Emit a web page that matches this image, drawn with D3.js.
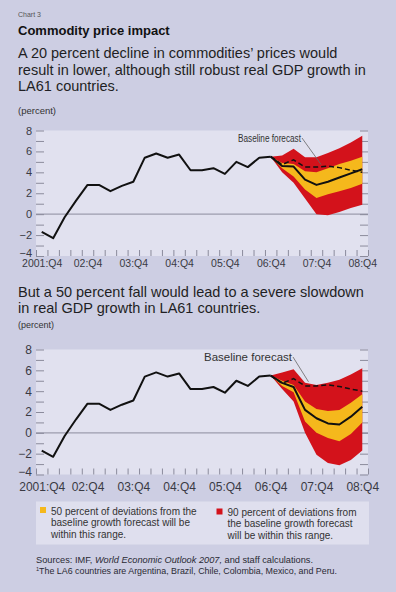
<!DOCTYPE html>
<html>
<head>
<meta charset="utf-8">
<script src="https://cdn.jsdelivr.net/npm/d3@7/dist/d3.min.js"></script>
<style>
  body { margin: 0; background: #cdcee3; }
  svg { display: block; font-family: "Liberation Sans", Arial, sans-serif; }
</style>
</head>
<body>
<div id="chart"></div>
<script>
// quarters 2001:Q4 .. 08:Q4
var quarters = ["2001:Q4","02:Q1","02:Q2","02:Q3","02:Q4","03:Q1","03:Q2","03:Q3","03:Q4",
  "04:Q1","04:Q2","04:Q3","04:Q4","05:Q1","05:Q2","05:Q3","05:Q4","06:Q1","06:Q2","06:Q3","06:Q4",
  "07:Q1","07:Q2","07:Q3","07:Q4","08:Q1","08:Q2","08:Q3","08:Q4"];
var tickLabels = ["2001:Q4","02:Q4","03:Q4","04:Q4","05:Q4","06:Q4","07:Q4","08:Q4"];
var yLabels = [-4, -2, 0, 2, 4, 6, 8];

// real GDP growth, LA6 (2001:Q4 - 06:Q4)
var actualGrowth = [-1.7, -2.3, -0.3, 1.3, 2.8, 2.8, 2.2, 2.7, 3.1, 5.4, 5.8, 5.4, 5.7,
  4.2, 4.2, 4.4, 3.85, 5.0, 4.5, 5.4, 5.5];

// forecasts 06:Q4 - 08:Q4
var baseline = [5.5, 4.75, 5.2, 4.5, 4.5, 4.6, 4.45, 4.2, 4.0];

// 20 percent decline
var central20 = [5.5, 4.6, 4.55, 3.3, 2.8, 3.1, 3.5, 3.9, 4.3];
var low50_20  = [5.5, 4.4, 3.6, 2.35, 1.55, 1.9, 2.2, 2.5, 2.9];
var high50_20 = [5.5, 4.9, 4.8, 4.1, 4.0, 4.4, 4.8, 5.1, 5.5];
var low90_20  = [5.5, 4.0, 3.0, 1.5, 0.0, -0.1, 0.2, 0.6, 0.9];
var high90_20 = [5.5, 5.6, 6.25, 5.45, 5.45, 5.85, 6.3, 6.85, 7.5];

// 50 percent fall
var central50 = [5.5, 4.8, 4.4, 2.2, 1.4, 0.9, 0.8, 1.55, 2.5];
var low50_50  = [5.5, 4.5, 3.9, 1.1, 0.0, -0.5, -0.8, -0.1, 1.0];
var high50_50 = [5.5, 5.0, 4.6, 3.0, 2.3, 2.1, 2.2, 2.9, 3.7];
var low90_50  = [5.5, 4.2, 3.0, 0.0, -2.1, -2.9, -3.1, -2.6, -1.7];
var high90_50 = [5.5, 5.8, 6.1, 4.8, 4.6, 4.8, 5.1, 5.6, 6.2];

var red = "#d3121b", yellow = "#f5b81c", plotBg = "#e1e1ef", tickCol = "#8b8b9c";

var width = 396, height = 592;
var svg = d3.select("#chart").append("svg")
  .attr("width", width)
  .attr("height", height);

svg.append("rect").attr("width", width).attr("height", height).attr("fill", "#cdcee3");

var txt = function(x, y, s, size, opts) {
  opts = opts || {};
  return svg.append("text")
    .attr("x", x).attr("y", y)
    .attr("font-size", size)
    .attr("font-weight", opts.bold ? "bold" : null)
    .attr("fill", opts.fill || "#1f1f24")
    .text(s);
};

// header
txt(18, 17, "Chart 3", 7, {fill: "#555"});
txt(18, 35, "Commodity price impact", 13, {bold: true, fill: "#111"});
txt(18, 58, "A 20 percent decline in commodities\u2019 prices would", 14.5);
txt(18, 74.5, "result in lower, although still robust real GDP growth in", 14.5);
txt(18, 91, "LA61 countries.", 14.5);
txt(18, 114, "(percent)", 9.5, {fill: "#333"});

txt(18, 297, "But a 50 percent fall would lead to a severe slowdown", 14.5);
txt(18, 313, "in real GDP growth in LA61 countries.", 14.5);
txt(18, 328, "(percent)", 9, {fill: "#333"});

var x = d3.scaleLinear().domain([-0.5, quarters.length - 0.5]).range([36, 368]);

function panel(cfg) {
  var y = d3.scaleLinear().domain([-4, 8]).range([cfg.bottom, cfg.top]);
  var g = svg.append("g");

  g.append("rect")
    .attr("x", x.range()[0]).attr("y", cfg.top)
    .attr("width", x.range()[1] - x.range()[0])
    .attr("height", cfg.bottom - cfg.top)
    .attr("fill", plotBg);

  // zero line
  g.append("line")
    .attr("x1", x.range()[0]).attr("x2", x.range()[1])
    .attr("y1", y(0)).attr("y2", y(0))
    .attr("stroke", "#9c9cae").attr("stroke-width", 1.3);

  // tick marks
  var ints = d3.range(-4, 9);
  g.append("g").attr("transform", "translate(" + x.range()[0] + ",0)")
    .call(d3.axisLeft(y).tickValues(ints).tickSizeInner(-8).tickSizeOuter(0).tickFormat(""))
    .call(function(a){ a.select(".domain").remove(); a.selectAll("line").attr("stroke", tickCol); });
  g.append("g").attr("transform", "translate(" + x.range()[1] + ",0)")
    .call(d3.axisRight(y).tickValues(ints).tickSizeInner(-8).tickSizeOuter(0).tickFormat(""))
    .call(function(a){ a.select(".domain").remove(); a.selectAll("line").attr("stroke", tickCol); });
  g.append("g").attr("transform", "translate(0," + cfg.bottom + ")")
    .call(d3.axisBottom(x).tickValues(d3.range(-0.5, quarters.length, 1)).tickSizeInner(-6).tickSizeOuter(0).tickFormat(""))
    .call(function(a){ a.select(".domain").remove(); a.selectAll("line").attr("stroke", tickCol); });

  // labels
  g.append("g").attr("transform", "translate(" + x.range()[0] + ",0)")
    .call(d3.axisLeft(y).tickValues(yLabels).tickSize(0).tickPadding(4))
    .call(function(a){
      a.select(".domain").remove();
      a.selectAll("text").attr("font-size", cfg.ySize).attr("font-family", null).attr("fill", "#3a3a44")
        .attr("y", function(d){ return d === -4 ? -3 : 0; });
    });
  g.append("g").attr("transform", "translate(0," + cfg.bottom + ")")
    .call(d3.axisBottom(x)
      .tickValues(tickLabels.map(function(l){ return quarters.indexOf(l); }))
      .tickFormat(function(i){ return quarters[i]; })
      .tickSize(0).tickPadding(cfg.xPad))
    .call(function(a){
      a.select(".domain").remove();
      a.selectAll("text").attr("font-size", cfg.xSize).attr("font-family", null).attr("fill", "#3a3a44");
    });

  var start = quarters.length - baseline.length;
  var fx = function(d, i){ return x(start + i); };

  var area = function(lo, hi) {
    return d3.area().x(fx).y0(function(d, i){ return y(lo[i]); }).y1(function(d, i){ return y(hi[i]); })(lo);
  };
  g.append("path").attr("d", area(cfg.lo90, cfg.hi90)).attr("fill", red);
  g.append("path").attr("d", area(cfg.lo50, cfg.hi50)).attr("fill", yellow);

  var line = d3.line().x(fx).y(function(d){ return y(d); });

  g.append("path")
    .attr("d", d3.line().x(function(d, i){ return x(i); }).y(function(d){ return y(d); })(actualGrowth))
    .attr("fill", "none").attr("stroke", "#111").attr("stroke-width", 2).attr("stroke-linejoin", "round");
  g.append("path").attr("d", line(cfg.central))
    .attr("fill", "none").attr("stroke", "#111").attr("stroke-width", 2).attr("stroke-linejoin", "round");
  g.append("path").attr("d", line(baseline))
    .attr("fill", "none").attr("stroke", "#111").attr("stroke-width", 1.5)
    .attr("stroke-dasharray", "5,3");

  // annotation
  g.append("line")
    .attr("x1", cfg.note.x2).attr("y1", cfg.note.y)
    .attr("x2", x(cfg.note.at)).attr("y2", y(cfg.note.val))
    .attr("stroke", "#666").attr("stroke-width", 0.8);
  g.append("text")
    .attr("x", cfg.note.x1).attr("y", cfg.note.y + cfg.note.size * 0.35)
    .attr("font-size", cfg.note.size)
    .attr("textLength", cfg.note.x2 - cfg.note.x1 - 1)
    .attr("lengthAdjust", "spacingAndGlyphs")
    .attr("fill", "#333")
    .text("Baseline forecast");
}

panel({
  top: 130.5, bottom: 256,
  ySize: 11, xSize: 10.5, xPad: 4,
  central: central20, lo50: low50_20, hi50: high50_20, lo90: low90_20, hi90: high90_20,
  note: {x1: 238, x2: 302, y: 138, at: 24.4, val: 4.75, size: 10}
});

panel({
  top: 349.5, bottom: 474.5,
  ySize: 12, xSize: 12, xPad: 8,
  central: central50, lo50: low50_50, hi50: high50_50, lo90: low90_50, hi90: high90_50,
  note: {x1: 204, x2: 293, y: 357, at: 23.3, val: 4.9, size: 11.5}
});

// legend
var leg = svg.append("g");
leg.append("rect").attr("x", 36).attr("y", 501.5).attr("width", 333).attr("height", 43).attr("fill", "#dfdfee");
leg.append("rect").attr("x", 40).attr("y", 507).attr("width", 6).attr("height", 6).attr("fill", yellow);
leg.append("rect").attr("x", 216.5).attr("y", 508.5).attr("width", 6).attr("height", 6).attr("fill", red);
var legLeft = ["50 percent of deviations from the", "baseline growth forecast will be", "within this range."];
var legRight = ["90 percent of deviations from", "the baseline growth forecast", "will be within this range."];
legLeft.forEach(function(s, i){ txt(51, 515 + i * 11.3, s, 10, {fill: "#333"}); });
legRight.forEach(function(s, i){ txt(227.5, 516 + i * 11.3, s, 10, {fill: "#333"}); });

// sources
var src = svg.append("text").attr("x", 36).attr("y", 563).attr("font-size", 9.5)
  .attr("textLength", 277).attr("lengthAdjust", "spacingAndGlyphs").attr("fill", "#2a2a33");
src.append("tspan").text("Sources: IMF, ");
src.append("tspan").attr("font-style", "italic").text("World Economic Outlook 2007,");
src.append("tspan").text(" and staff calculations.");
var fn = svg.append("text").attr("x", 36).attr("y", 574).attr("font-size", 9.5)
  .attr("textLength", 301).attr("lengthAdjust", "spacingAndGlyphs").attr("fill", "#2a2a33");
fn.append("tspan").attr("font-size", 6).attr("dy", -3).text("1");
fn.append("tspan").attr("dy", 3).text("The LA6 countries are Argentina, Brazil, Chile, Colombia, Mexico, and Peru.");
</script>
</body>
</html>
